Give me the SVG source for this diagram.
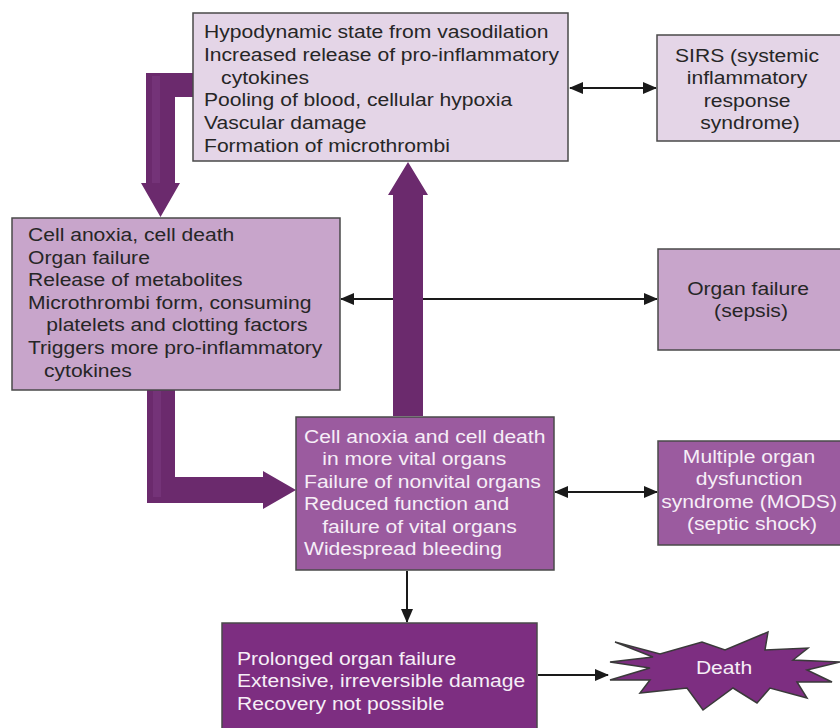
<svg xmlns="http://www.w3.org/2000/svg" width="840" height="728" viewBox="0 0 840 728">
  <defs>
    <style>
      .box { stroke: #4a4a4a; stroke-width: 1.5; }
      .pale { fill: #e4d5e7; }
      .mid { fill: #c8a5cb; }
      .deep { fill: #9b5b9f; }
      .dark { fill: #7d2e81; }
      .txt { font-family: "Liberation Sans", Arial, Helvetica, sans-serif; font-size: 18.5px; fill: #262626; }
      .inv { fill: #f6eef7; }
      .thick { fill: #6b2a6d; }
      .stripe { fill: #743378; }
      .thin { stroke: #1a1a1a; stroke-width: 2; fill: none; }
    </style>
    <marker id="head" viewBox="0 0 14 12" markerWidth="14" markerHeight="12" refX="13" refY="6" orient="auto-start-reverse" markerUnits="userSpaceOnUse">
      <path d="M0,0 L14,6 L0,12 z" fill="#1a1a1a"/>
    </marker>
  </defs>

  <rect width="840" height="728" fill="#ffffff"/>

  <!-- connectors: thin two-way / one-way links first, heavy flow arrows on top -->
  <g id="connectors">
    <line class="thin" x1="570" y1="88" x2="656" y2="88" marker-start="url(#head)" marker-end="url(#head)"/>
    <line class="thin" x1="341" y1="299" x2="657" y2="299" marker-start="url(#head)" marker-end="url(#head)"/>
    <line class="thin" x1="555" y1="492" x2="657" y2="492" marker-start="url(#head)" marker-end="url(#head)"/>
    <line class="thin" x1="407" y1="571" x2="407" y2="622" marker-end="url(#head)"/>
    <line class="thin" x1="538" y1="675" x2="608" y2="675" marker-end="url(#head)"/>

    <!-- top box down into left box -->
    <polygon class="thick" points="194,73 146,73 146,183 141,183 160.5,217 180,183 175,183 175,97 194,97"/>
    <rect class="stripe" x="152" y="76" width="8" height="107"/>
    <!-- middle box up into top box -->
    <polygon class="thick" points="393,416 393,195 388,195 408,162 428,195 423,195 423,416"/>
    <!-- left box down and across into middle box -->
    <polygon class="thick" points="147,390 175,390 175,477 263,477 263,471 296,490 263,509 263,503 147,503"/>
    <rect class="stripe" x="153" y="391" width="8" height="106"/>
  </g>

  <g id="node-vasodilation">
    <rect class="box pale" x="193" y="13" width="375" height="148"/>
    <text class="txt" transform="translate(204,38) scale(1.14,1)">
      <tspan x="0" y="0">Hypodynamic state from vasodilation</tspan>
      <tspan x="0" y="22.8">Increased release of pro-inflammatory</tspan>
      <tspan x="15" y="45.6">cytokines</tspan>
      <tspan x="0" y="68.4">Pooling of blood, cellular hypoxia</tspan>
      <tspan x="0" y="91.2">Vascular damage</tspan>
      <tspan x="0" y="114">Formation of microthrombi</tspan>
    </text>
  </g>

  <g id="node-sirs">
    <rect class="box pale" x="657" y="35" width="190" height="106"/>
    <text class="txt" text-anchor="middle" transform="translate(750,62) scale(1.14,1)">
      <tspan x="0" y="0">SIRS (systemic</tspan>
      <tspan x="0" y="22.5">inflammatory</tspan>
      <tspan x="0" y="45">response</tspan>
      <tspan x="0" y="67.5">syndrome)</tspan>
    </text>
  </g>

  <g id="node-anoxia">
    <rect class="box mid" x="12" y="218" width="328" height="172"/>
    <text class="txt" transform="translate(28,241) scale(1.14,1)">
      <tspan x="0" y="0">Cell anoxia, cell death</tspan>
      <tspan x="0" y="22.6">Organ failure</tspan>
      <tspan x="0" y="45.2">Release of metabolites</tspan>
      <tspan x="0" y="67.8">Microthrombi form, consuming</tspan>
      <tspan x="16" y="90.4">platelets and clotting factors</tspan>
      <tspan x="0" y="113">Triggers more pro-inflammatory</tspan>
      <tspan x="14" y="135.6">cytokines</tspan>
    </text>
  </g>

  <g id="node-organ-failure">
    <rect class="box mid" x="658" y="249" width="190" height="101"/>
    <text class="txt" text-anchor="middle" transform="translate(751,295) scale(1.14,1)">
      <tspan x="0" y="0">Organ failure</tspan>
      <tspan x="0" y="22">(sepsis)</tspan>
    </text>
  </g>

  <g id="node-vital-organs">
    <rect class="box deep" x="296" y="417" width="258" height="153"/>
    <text class="txt inv" transform="translate(304,443) scale(1.14,1)">
      <tspan x="0" y="0">Cell anoxia and cell death</tspan>
      <tspan x="16" y="22.5">in more vital organs</tspan>
      <tspan x="0" y="45">Failure of nonvital organs</tspan>
      <tspan x="0" y="67.5">Reduced function and</tspan>
      <tspan x="16" y="90">failure of vital organs</tspan>
      <tspan x="0" y="112.5">Widespread bleeding</tspan>
    </text>
  </g>

  <g id="node-mods">
    <rect class="box deep" x="658" y="441" width="190" height="104"/>
    <text class="txt inv" text-anchor="middle" transform="translate(752,463) scale(1.14,1)">
      <tspan x="0" y="0">Multiple organ</tspan>
      <tspan x="0" y="22.5">dysfunction</tspan>
      <tspan x="0" y="45">syndrome (MODS)</tspan>
      <tspan x="0" y="67.5">(septic shock)</tspan>
    </text>
  </g>

  <g id="node-prolonged">
    <rect class="box dark" x="222" y="623" width="315" height="115"/>
    <text class="txt inv" transform="translate(237,665) scale(1.14,1)">
      <tspan x="0" y="0">Prolonged organ failure</tspan>
      <tspan x="0" y="22.3">Extensive, irreversible damage</tspan>
      <tspan x="0" y="44.6">Recovery not possible</tspan>
    </text>
  </g>

  <g id="node-death">
    <polygon class="dark" stroke="#3a3a3a" stroke-width="1.5" stroke-linejoin="miter" points="615,642 660,654 702,642 725,650 768,632 765,650 808,648 793,660 840,662 807,670 832,682 797,682 807,698 770,688 757,703 733,688 703,710 687,688 640,693 650,680 610,680 650,668 610,662 653,657"/>
    <text class="txt inv" text-anchor="middle" transform="translate(724,674) scale(1.14,1)">Death</text>
  </g>
</svg>
